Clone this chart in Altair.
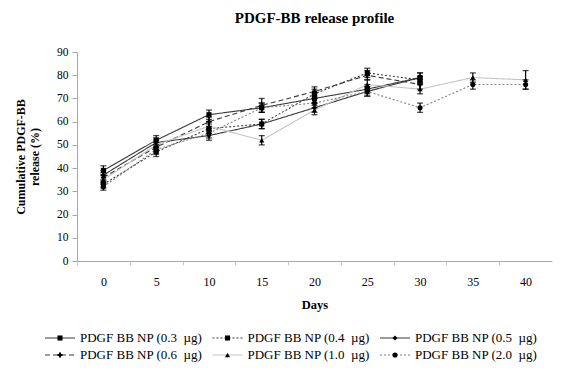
import altair as alt
import pandas as pd

days = [0, 5, 10, 15, 20, 25, 30, 35, 40]
series = ["PDGF BB NP (0.3\u00a0 µg)", "PDGF BB NP (0.4\u00a0 µg)", "PDGF BB NP (0.5\u00a0 µg)",
          "PDGF BB NP (0.6\u00a0 µg)", "PDGF BB NP (1.0\u00a0 µg)", "PDGF BB NP (2.0\u00a0 µg)"]

s03 = [39, 52, 63, 66, 70, 74, 79]
s04 = [33, 47, 57, 59, 72, 81, 78]
s05 = [37, 51, 54, 59, 66, 73, 79]
s06 = [36, 49, 60, 67, 73, 80, 76]
s10 = [35, 50, 58, 52, 65, 76, 74, 79, 78]
s20 = [32, 48, 55, 66, 68, 73, 66, 76, 76]

e03 = [2, 2, 2, 2, 2, 2, 2]
e04 = [1.5, 2, 2, 2, 2, 2, 1.5]
e05 = [2, 2, 2, 2, 2, 2, 2]
e06 = [2, 2, 2, 3, 2, 2, 2]
e10 = [2, 2, 2, 2, 2, 2, 2, 2, 4]
e20 = [1.5, 2, 2, 2, 2, 2, 2, 2, 2]

values = [s03, s04, s05, s06, s10, s20]
errors = [e03, e04, e05, e06, e10, e20]

line_colors = ["#3a3a3a", "#3a3a3a", "#3a3a3a", "#3a3a3a", "#c4c4c4", "#808080"]
dashes = [[1, 0], [2, 2], [1, 0], [5, 3], [1, 0], [2, 2]]
shapes = ["square", "square", "diamond", "cross", "triangle-up", "circle"]

rows = []
for name, vals, errs in zip(series, values, errors):
    for d, v, e in zip(days, vals, errs):
        rows.append({"series": name, "day": d, "value": v, "lo": v - e, "hi": v + e})
df = pd.DataFrame(rows)

leg = pd.DataFrame({"series": series,
                    "col": [i % 3 for i in range(len(series))],
                    "row": [i // 3 for i in range(len(series))]})

W, H = 475, 209
FONT = "Liberation Serif"

xscale = alt.Scale(domain=[-2.5, 42.5], nice=False, zero=False)
yscale = alt.Scale(domain=[0, 90], nice=False)
color_scale = alt.Scale(domain=series, range=line_colors)
dash_scale = alt.Scale(domain=series, range=dashes)
shape_scale = alt.Scale(domain=series, range=shapes)

half = W / 45 * 2.5

x_axis = alt.Axis(values=days, title="Days", tickOffset=-half, labelOffset=half,
                  tickSize=4, tickColor="#c8c8c8", domainColor="#a8a8a8",
                  labelFont=FONT, labelFontSize=12, labelColor="#000",
                  labelPadding=11, labelOverlap=False,
                  titleFont=FONT, titleFontSize=12.5,
                  titleFontWeight="bold", titlePadding=11, titleColor="#000",
                  grid=False)
y_axis = alt.Axis(values=list(range(0, 91, 10)),
                  title=["Cumulative PDGF-BB", "release (%)"],
                  tickSize=5, tickColor="#a8a8a8", domainColor="#a8a8a8",
                  labelFont=FONT, labelFontSize=11.5, labelColor="#000",
                  labelPadding=4, labelOverlap=False,
                  titleFont=FONT, titleFontSize=12,
                  titleFontWeight="bold", titleColor="#000", titlePadding=15,
                  grid=False)

def X(f):
    return alt.X(f, scale=xscale, axis=x_axis)

def Y(f):
    return alt.Y(f, scale=yscale, axis=y_axis)

base = alt.Chart(df)

lines = base.mark_line(strokeWidth=1.1).encode(
    x=X("day:Q"), y=Y("value:Q"),
    color=alt.Color("series:N", scale=color_scale, legend=None),
    strokeDash=alt.StrokeDash("series:N", scale=dash_scale, legend=None),
    detail="series:N")

bars = base.mark_rule(color="#000", strokeWidth=1.2).encode(
    x=X("day:Q"), y=Y("lo:Q"), y2="hi:Q")

cap_lo = base.mark_tick(orient="horizontal", size=6, thickness=1.3, color="#000").encode(
    x=X("day:Q"), y=Y("lo:Q"))
cap_hi = base.mark_tick(orient="horizontal", size=6, thickness=1.3, color="#000").encode(
    x=X("day:Q"), y=Y("hi:Q"))

points = base.mark_point(filled=True, color="#000", opacity=1, size=26).encode(
    x=X("day:Q"), y=Y("value:Q"),
    shape=alt.Shape("series:N", scale=shape_scale, legend=None))

main = alt.layer(lines, bars, cap_lo, cap_hi, points)

lx = alt.X("col:Q", scale=alt.Scale(domain=[0, 2], range=[-32, 303]), axis=None)
ly = alt.Y("row:Q", scale=alt.Scale(domain=[0, 1], range=[H + 77, H + 94]), axis=None)
lbase = alt.Chart(leg)
leg_line = lbase.mark_rule(strokeWidth=1.1, x2Offset=30).encode(
    x=lx, x2="col:Q", y=ly,
    color=alt.Color("series:N", scale=color_scale, legend=None),
    strokeDash=alt.StrokeDash("series:N", scale=dash_scale, legend=None))
leg_pt = lbase.mark_point(filled=True, color="#000", opacity=1, size=26, xOffset=15).encode(
    x=lx, y=ly, shape=alt.Shape("series:N", scale=shape_scale, legend=None))
leg_txt = lbase.mark_text(align="left", baseline="middle", dx=35, font=FONT,
                          fontSize=13, color="#000").encode(
    x=lx, y=ly, text="series:N")
legend = alt.layer(leg_line, leg_pt, leg_txt)

chart = alt.layer(main, legend).resolve_scale(x="independent", y="independent").properties(
    width=W, height=H,
    padding={"left": 69, "top": 44, "right": 25, "bottom": 101},
    autosize="none",
    title=alt.TitleParams("PDGF-BB release profile", font=FONT, fontSize=15,
                          fontWeight="bold", color="#000", anchor="middle", offset=20)
).configure_view(stroke=None)

chart.save("out.html", embed_options={"renderer": "svg", "actions": False})
